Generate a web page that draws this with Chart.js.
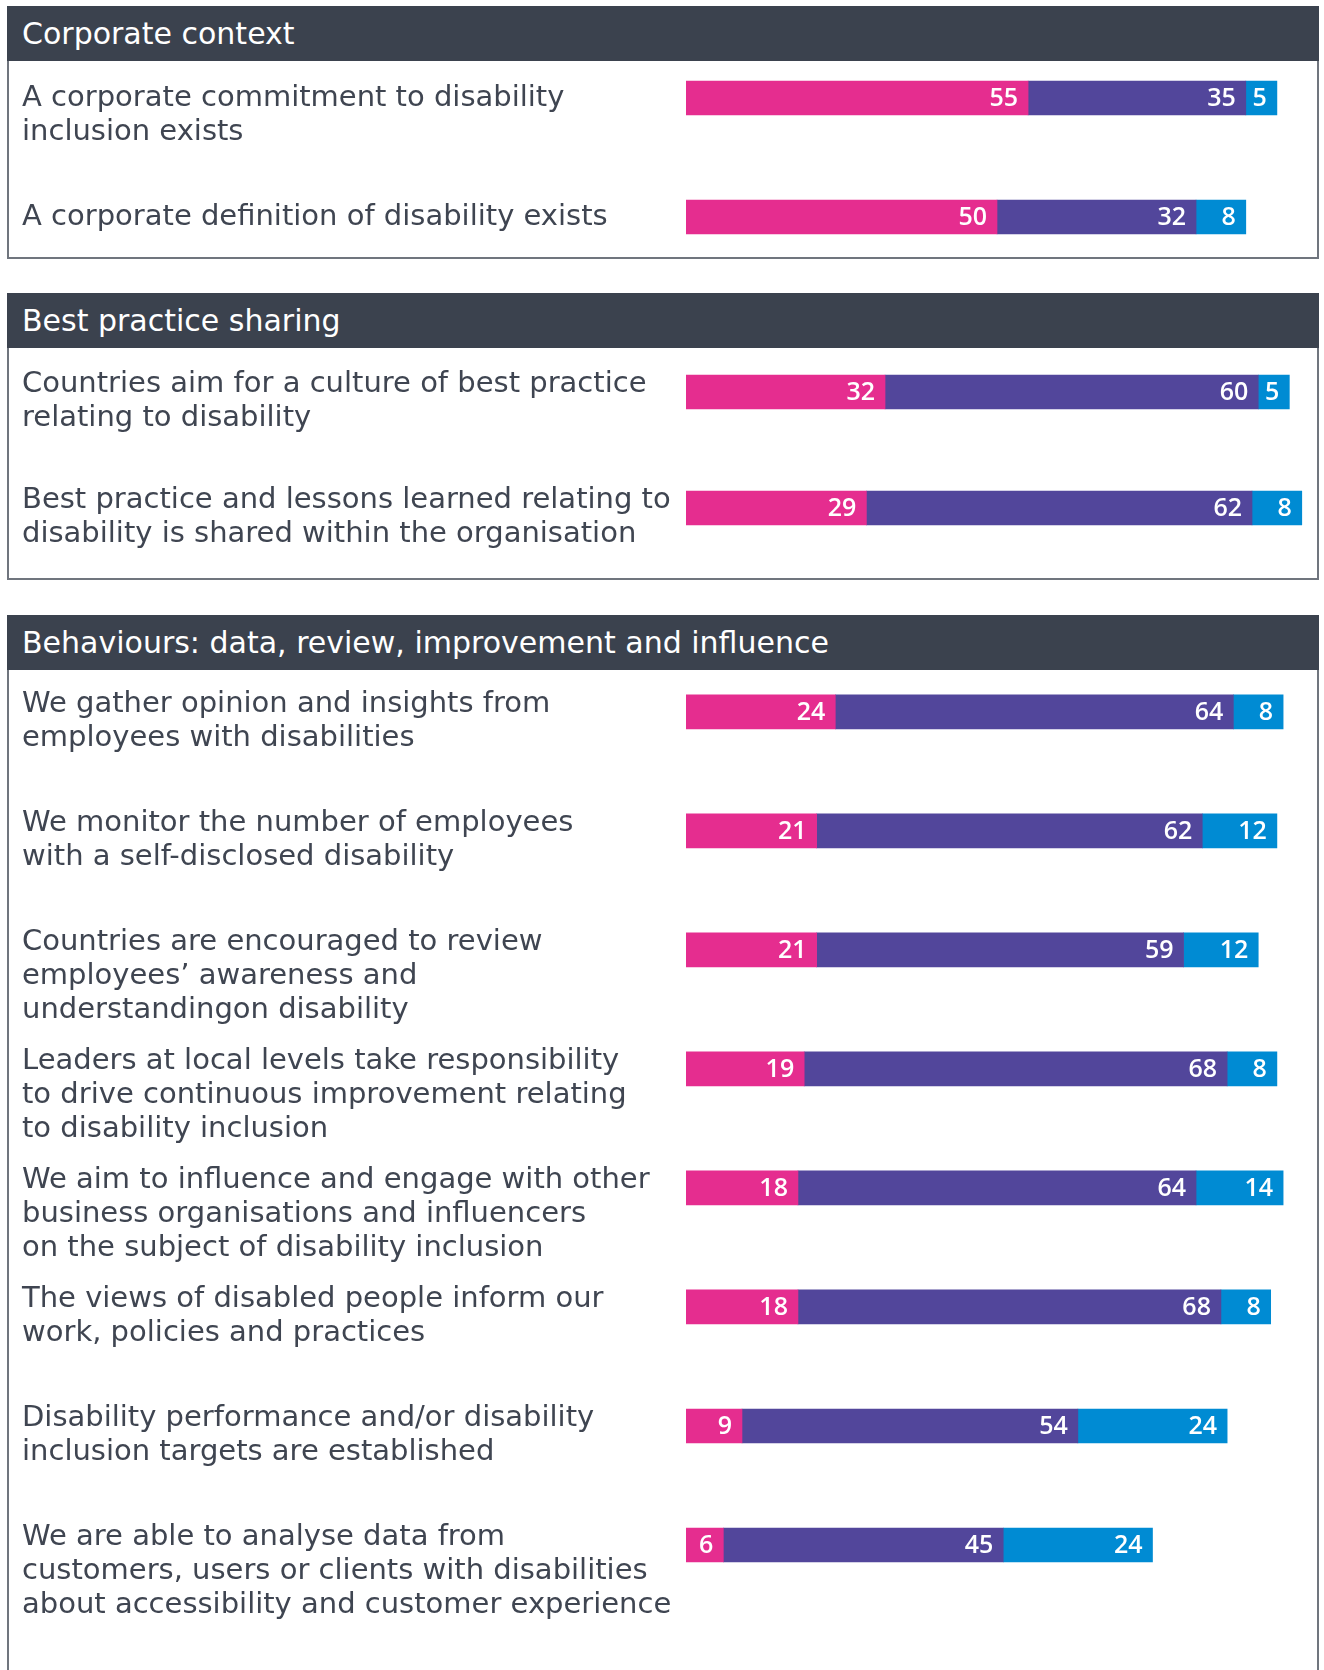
<!DOCTYPE html>
<html>
<head>
<meta charset="utf-8">
<script src="https://cdn.jsdelivr.net/npm/chart.js@4"></script>
<style>
body { margin:0; background:#fff; width:1324px; height:1670px; overflow:hidden; position:relative; }
.hdr { position:absolute; left:7px; width:1312px; height:55px; background:#3b424e; color:#fff;
  font:30px "DejaVu Sans"; line-height:55px; padding-left:15px; box-sizing:border-box; }
.box { position:absolute; left:7px; width:1312px; border:2px solid #70757e; border-top:none; box-sizing:border-box; }
canvas { position:absolute; left:0; top:0; }
</style>
</head>
<body>
<div class="hdr" style="top:6px">Corporate context</div>
<div class="box" style="top:61px;height:198px"></div>
<div class="hdr" style="top:293px">Best practice sharing</div>
<div class="box" style="top:348px;height:232px"></div>
<div class="hdr" style="top:615px">Behaviours: data, review, improvement and influence</div>
<div class="box" style="top:670px;height:1020px"></div>

<canvas id="contextChart" width="1324" height="1670"></canvas>
<canvas id="sharingChart" width="1324" height="1670"></canvas>
<canvas id="behaviourChart" width="1324" height="1670"></canvas>

<script>
// row labels, one array of lines per row
var contextLabels = [
	["A corporate commitment to disability", "inclusion exists"],
	["A corporate definition of disability exists"]
];
var contextPink = [55, 50];
var contextPurple = [35, 32];
var contextBlue = [5, 8];

var sharingLabels = [
	["Countries aim for a culture of best practice", "relating to disability"],
	["Best practice and lessons learned relating to", "disability is shared within the organisation"]
];
var sharingPink = [32, 29];
var sharingPurple = [60, 62];
var sharingBlue = [5, 8];

var behaviourLabels = [
	["We gather opinion and insights from", "employees with disabilities"],
	["We monitor the number of employees", "with a self-disclosed disability"],
	["Countries are encouraged to review", "employees\u2019 awareness and", "understandingon disability"],
	["Leaders at local levels take responsibility", "to drive continuous improvement relating", "to disability inclusion"],
	["We aim to influence and engage with other", "business organisations and influencers", "on the subject of disability inclusion"],
	["The views of disabled people inform our", "work, policies and practices"],
	["Disability performance and/or disability", "inclusion targets are established"],
	["We are able to analyse data from", "customers, users or clients with disabilities", "about accessibility and customer experience"]
];
var behaviourPink = [24, 21, 21, 19, 18, 18, 9, 6];
var behaviourPurple = [64, 62, 59, 68, 64, 68, 54, 45];
var behaviourBlue = [8, 12, 12, 8, 14, 8, 24, 24];

var PINK = "#e52d8f";
var PURPLE = "#52469b";
var BLUE = "#008bd3";

var rowText = {
	id: "rowText",
	afterDatasetsDraw: function(chart, args, opts) {
		var ctx = chart.ctx;
		ctx.save();
		// values inside the segments
		ctx.font = "600 25px 'Open Sans'";
		ctx.fillStyle = "#fff";
		ctx.textAlign = "right";
		ctx.textBaseline = "middle";
		chart.data.datasets.forEach(function(ds, i) {
			chart.getDatasetMeta(i).data.forEach(function(bar, j) {
				ctx.fillText(ds.data[j], bar.x - 10, bar.y + 1);
			});
		});
		// question text on the left
		ctx.font = "29px 'DejaVu Sans'";
		ctx.fillStyle = "#3f4551";
		ctx.textAlign = "left";
		ctx.textBaseline = "alphabetic";
		chart.data.labels.forEach(function(lines, j) {
			var y = chart.scales.y.getPixelForValue(j) + opts.shift;
			for (var k = 0; k < lines.length; k++) {
				ctx.fillText(lines[k], 22, y + k * 34);
			}
		});
		ctx.restore();
	}
};

function makeChart(id, labels, pink, purple, blue, top, bottom, shift) {
	return new Chart(document.getElementById(id), {
		type: "bar",
		data: {
			labels: labels,
			datasets: [
				{ data: pink, backgroundColor: PINK, barThickness: 34 },
				{ data: purple, backgroundColor: PURPLE, barThickness: 34 },
				{ data: blue, backgroundColor: BLUE, barThickness: 34 }
			]
		},
		options: {
			indexAxis: "y",
			responsive: false,
			animation: false,
			events: [],
			layout: { padding: { left: 686, right: 16, top: top, bottom: 1670 - bottom } },
			scales: {
				x: { stacked: true, min: 0, max: 100, display: false },
				y: { stacked: true, display: false }
			},
			plugins: {
				legend: { display: false },
				tooltip: { enabled: false },
				rowText: { shift: shift }
			}
		},
		plugins: [rowText]
	});
}

makeChart("contextChart", contextLabels, contextPink, contextPurple, contextBlue, 38.5, 276.5, 8);
makeChart("sharingChart", sharingLabels, sharingPink, sharingPurple, sharingBlue, 334, 566, 0);
makeChart("behaviourChart", behaviourLabels, behaviourPink, behaviourPurple, behaviourBlue, 652.3, 1604.5, 0);
</script>
</body>
</html>
